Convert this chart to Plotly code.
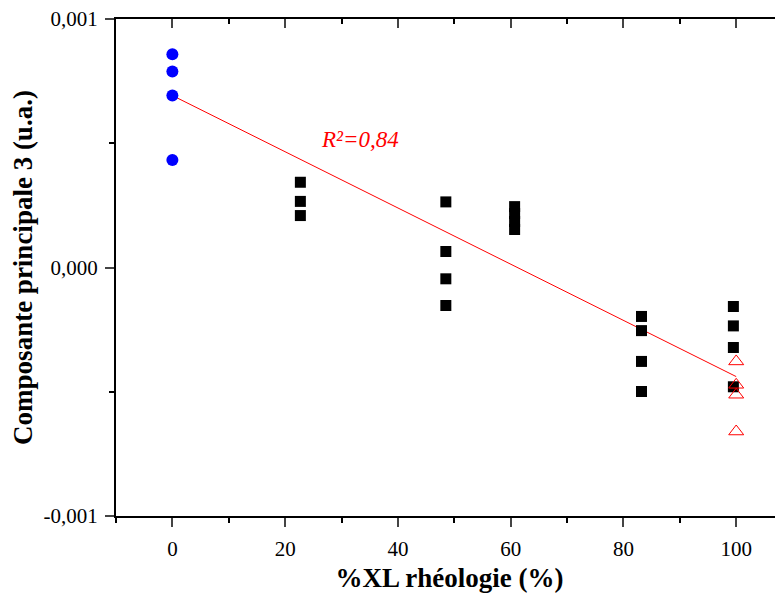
import plotly.graph_objects as go

# Data
blue_x = [0, 0, 0, 0]
blue_y = [0.000858, 0.000789, 0.000692, 0.000433]

black_x = [22.7, 22.7, 22.7,
           48.5, 48.5, 48.5, 48.5,
           60.7, 60.7, 60.7, 60.7,
           83.2, 83.2, 83.2, 83.2,
           99.5, 99.5, 99.5, 99.5]
black_y = [0.000343, 0.000266, 0.000209,
           0.000264, 0.0000644, -0.0000455, -0.000153,
           0.000245, 0.000217, 0.000185, 0.000153,
           -0.000197, -0.000254, -0.000378, -0.000499,
           -0.000157, -0.000235, -0.000322, -0.000480]

red_x = [100, 100, 100, 100]
red_y = [-0.000378, -0.000472, -0.000512, -0.000660]

fit_x = [0, 100]
fit_y = [0.000692, -0.000439]

r2_label = "R²=0,84"
r2_pos = (33.2, 0.000515)

y_tickvals = [-0.001, 0.0, 0.001]
y_ticktext = ["-0,001", "0,000", "0,001"]
x_tickvals = [0, 20, 40, 60, 80, 100]
x_minor = [-10, 10, 30, 50, 70, 90]
y_minor = [-0.0005, 0.0005]

FONT = "Liberation Serif, Times New Roman, serif"

fig = go.Figure()
fig.add_trace(go.Scatter(x=fit_x, y=fit_y, mode="lines",
                         line=dict(color="red", width=1), showlegend=False))
fig.add_trace(go.Scatter(x=blue_x, y=blue_y, mode="markers",
                         marker=dict(symbol="circle", size=12, color="#0000ff"),
                         showlegend=False))
fig.add_trace(go.Scatter(x=black_x, y=black_y, mode="markers",
                         marker=dict(symbol="square", size=11, color="black"),
                         showlegend=False))
fig.add_trace(go.Scatter(x=red_x, y=red_y, mode="markers",
                         marker=dict(symbol="triangle-up-open", size=13, color="red",
                                     line=dict(width=1, color="red")),
                         showlegend=False))

fig.add_annotation(x=r2_pos[0], y=r2_pos[1], text=r2_label, showarrow=False,
                   font=dict(family=FONT, size=23, color="red", style="italic"))

xr = [-10, 108.3]
# the page body adds an 8px offset, so the figure is 775x589
fig.update_layout(
    width=775, height=589,
    margin=dict(l=108, r=0, t=11, b=81),
    paper_bgcolor="white", plot_bgcolor="white",
    font=dict(family=FONT, size=21, color="black"),
    xaxis=dict(range=xr, tickvals=x_tickvals, ticks="outside", ticklen=9, tickwidth=2,
               showline=True, linewidth=2, linecolor="black", showgrid=False,
               zeroline=False, ticklabelstandoff=4,
               minor=dict(tickvals=x_minor, ticks="outside",
                          ticklen=5, tickwidth=2, tickcolor="black"),
               tickfont=dict(family=FONT, size=21),
               title=dict(text="<b>%XL rhéologie (%)</b>", standoff=8,
                          font=dict(family=FONT, size=27))),
    xaxis2=dict(range=xr, overlaying="x", side="top", tickvals=x_tickvals,
                ticks="inside", ticklen=9, tickwidth=2, showticklabels=False,
                showline=True, linewidth=2, linecolor="black", showgrid=False,
                zeroline=False,
                minor=dict(tickvals=x_minor, ticks="inside",
                           ticklen=5, tickwidth=2, tickcolor="black")),
    yaxis=dict(range=[-0.001, 0.001], tickvals=y_tickvals, ticktext=y_ticktext,
               ticks="outside", ticklen=9, tickwidth=2,
               showline=True, linewidth=2, linecolor="black", showgrid=False,
               zeroline=False, ticklabelstandoff=3, ticklabeloverflow="allow",
               minor=dict(tickvals=y_minor, ticks="outside",
                          ticklen=5, tickwidth=2, tickcolor="black"),
               tickfont=dict(family=FONT, size=21),
               title=dict(text="<b>Composante principale 3 (u.a.)</b>", standoff=4,
                          font=dict(family=FONT, size=27))),
)
# invisible trace to activate the top axis
fig.add_trace(go.Scatter(x=[None], y=[None], xaxis="x2", showlegend=False,
                         hoverinfo="skip"))

fig.write_html("out.html")
